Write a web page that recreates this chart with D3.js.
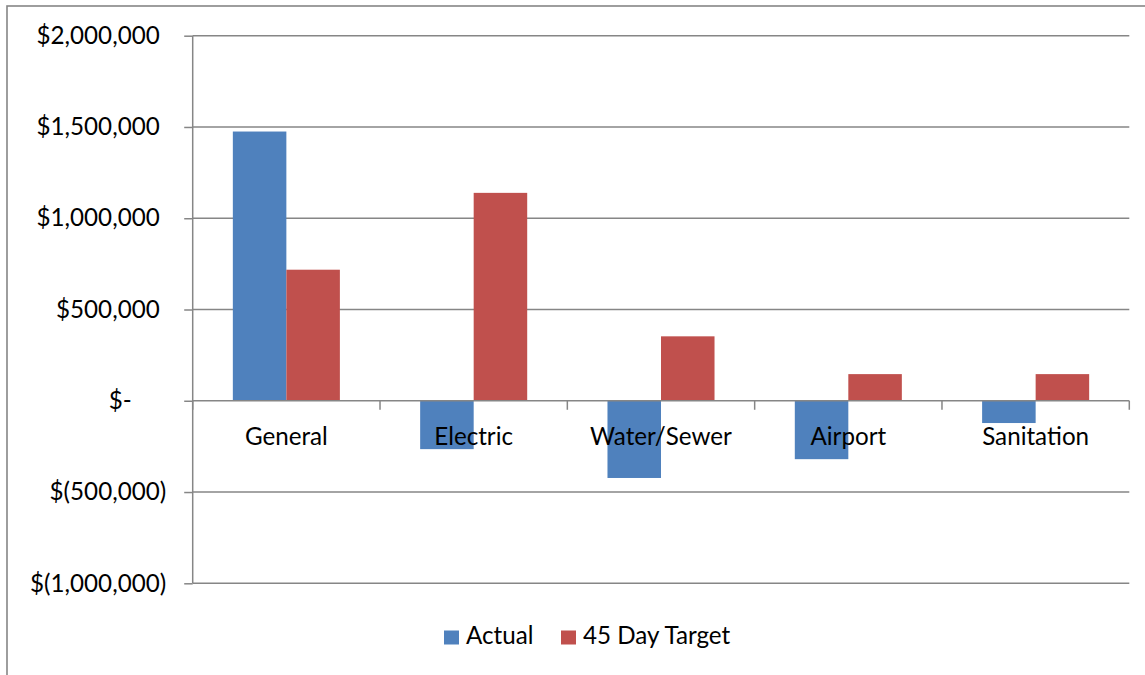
<!DOCTYPE html>
<html>
<head>
<meta charset="utf-8">
<script src="https://cdn.jsdelivr.net/npm/d3@7"></script>
<style>
  html, body { margin: 0; padding: 0; background: #fff; }
  svg { display: block; font-family: Lato, "Open Sans", sans-serif; }
</style>
</head>
<body>
<svg id="chart" width="1145" height="675"></svg>
<script>
// Funds: actual cash balance versus the 45-day operating target
const categories = ["General", "Electric", "Water/Sewer", "Airport", "Sanitation"];
const actual = [1475000, -265000, -423000, -320000, -122000];
const target = [718000, 1139000, 353000, 146000, 146000];
const seriesNames = ["Actual", "45 Day Target"];
const seriesColors = ["#4F81BD", "#C0504D"];
const yTicks = [-1000000, -500000, 0, 500000, 1000000, 1500000, 2000000];

const svg = d3.select("#chart");
const W = 1145, H = 675;
const plot = { left: 192.7, right: 1129.3, top: 35.7, bottom: 583.3 };
const gridColor = "#868686";
const fontSize = 24.2;

// outer chart frame
svg.append("rect")
  .attr("x", 7).attr("y", 6)
  .attr("width", W + 10).attr("height", H + 10)
  .attr("fill", "#fff")
  .attr("stroke", gridColor).attr("stroke-width", 1.6);

const y = d3.scaleLinear().domain([-1000000, 2000000]).range([plot.bottom, plot.top]);
const x = d3.scaleBand().domain(categories).range([plot.left, plot.right]).paddingInner(0).paddingOuter(0);
// two bars per group, 150% gap width
const bw = x.bandwidth();
const barW = bw / 3.5;
const xs = d3.scaleBand().domain([0, 1]).range([barW * 0.75, barW * 2.75]).padding(0);

// horizontal gridlines
svg.append("g")
  .selectAll("line")
  .data(yTicks.filter(d => d !== 0))
  .join("line")
  .attr("x1", plot.left).attr("x2", plot.right)
  .attr("y1", d => y(d)).attr("y2", d => y(d))
  .attr("stroke", gridColor).attr("stroke-width", 1.5);

// bars
const rows = categories.map((c, i) => ({ cat: c, vals: [actual[i], target[i]] }));
svg.append("g")
  .selectAll("g")
  .data(rows)
  .join("g")
  .attr("transform", d => `translate(${x(d.cat)},0)`)
  .selectAll("rect")
  .data(d => d.vals.map((v, k) => ({ v, k })))
  .join("rect")
  .attr("x", d => xs(d.k))
  .attr("width", xs.bandwidth())
  .attr("y", d => Math.min(y(d.v), y(0)))
  .attr("height", d => Math.abs(y(d.v) - y(0)))
  .attr("fill", d => seriesColors[d.k]);

// accounting-style labels: digits aligned, room kept for the closing parenthesis
const fmtNum = d3.format(",");
function fmt(v) {
  if (v > 0) return "$" + fmtNum(v);
  if (v < 0) return "$(" + fmtNum(-v) + ")";
  return "$-";
}
const probe = svg.append("text").attr("font-size", fontSize);
const parenW = probe.text(")").node().getComputedTextLength();
const digitW = probe.text("0").node().getComputedTextLength();
probe.remove();
function pad(v) {
  if (v > 0) return parenW;
  if (v < 0) return 0;
  return parenW + 2 * digitW;
}

// y axis with outward ticks
const yAxis = svg.append("g")
  .attr("transform", `translate(${plot.left},0)`)
  .call(d3.axisLeft(y).tickValues(yTicks).tickSize(8.5).tickPadding(18).tickFormat(fmt));
yAxis.select(".domain").attr("stroke", gridColor).attr("stroke-width", 1.5)
  .attr("d", `M0,${plot.top}V${plot.bottom}`);
yAxis.selectAll(".tick line").attr("stroke", gridColor).attr("stroke-width", 1.5);
yAxis.selectAll(".tick text")
  .attr("font-size", fontSize)
  .attr("font-family", "Lato, 'Open Sans', sans-serif")
  .attr("fill", "#000")
  .attr("x", d => -26.5 - pad(d));

// category axis along zero
const xAxis = svg.append("g").attr("transform", `translate(0,${y(0)})`);
xAxis.append("line")
  .attr("x1", plot.left).attr("x2", plot.right)
  .attr("stroke", gridColor).attr("stroke-width", 1.5);
xAxis.selectAll("line.tk")
  .data(categories.map(c => x(c) + bw))
  .join("line")
  .attr("class", "tk")
  .attr("x1", d => d).attr("x2", d => d)
  .attr("y1", 0).attr("y2", 9)
  .attr("stroke", gridColor).attr("stroke-width", 1.5);
xAxis.append("line")
  .attr("x1", plot.left).attr("x2", plot.left)
  .attr("y1", 0).attr("y2", 9)
  .attr("stroke", gridColor).attr("stroke-width", 1.5);
xAxis.selectAll("text")
  .data(categories)
  .join("text")
  .attr("x", d => x(d) + bw / 2)
  .attr("y", 44)
  .attr("text-anchor", "middle")
  .attr("font-size", fontSize)
  .attr("fill", "#000")
  .text(d => d);

// legend
const legend = svg.append("g");
const legendX = [444, 561];
seriesNames.forEach((name, k) => {
  legend.append("rect")
    .attr("x", legendX[k]).attr("y", 630.5)
    .attr("width", 15).attr("height", 14)
    .attr("fill", seriesColors[k]);
  legend.append("text")
    .attr("x", legendX[k] + 22).attr("y", 644)
    .attr("font-size", fontSize)
    .attr("fill", "#000")
    .text(name);
});
</script>
</body>
</html>
